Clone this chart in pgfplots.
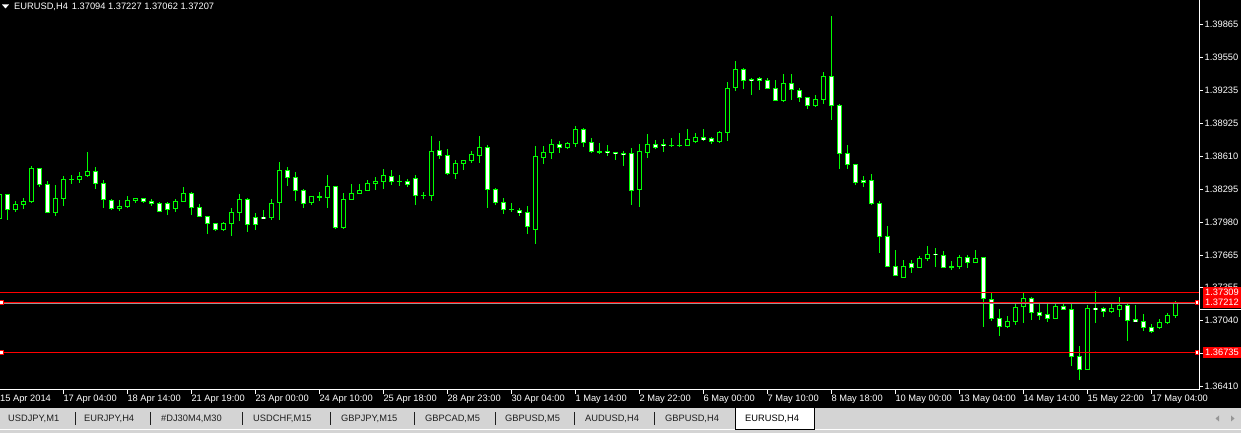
\documentclass[border=0pt]{standalone}
\usepackage{pgfplots}
\pgfplotsset{compat=1.18}
\usepackage{pgfplotstable}
\usepackage{fontspec}
\setmainfont{Liberation Sans}
\definecolor{wick}{RGB}{0,255,0}
\definecolor{tabgray}{RGB}{212,212,212}
\definecolor{tabtext}{RGB}{30,30,30}
\definecolor{bidgray}{RGB}{150,150,150}
\newcommand{\mtfont}{\fontsize{9.3}{10}\selectfont}
\pgfplotstableread{
n O H L C
0 1.38013 1.38258 1.38003 1.38248
1 1.38248 1.38251 1.38003 1.38099
2 1.38099 1.38178 1.38073 1.38153
3 1.38146 1.38210 1.38108 1.38181
4 1.38178 1.38516 1.38165 1.38497
5 1.38493 1.38497 1.38318 1.38341
6 1.38341 1.38369 1.38070 1.38073
7 1.38073 1.38334 1.38041 1.38210
8 1.38207 1.38417 1.38137 1.38388
9 1.38388 1.38433 1.38347 1.38388
10 1.38388 1.38458 1.38356 1.38420
11 1.38423 1.38649 1.38414 1.38465
12 1.38465 1.38506 1.38299 1.38350
13 1.38353 1.38382 1.38118 1.38197
14 1.38191 1.38197 1.38095 1.38108
15 1.38111 1.38191 1.38086 1.38134
16 1.38127 1.38229 1.38124 1.38188
17 1.38188 1.38210 1.38159 1.38207
18 1.38207 1.38210 1.38159 1.38178
19 1.38181 1.38200 1.38130 1.38159
20 1.38159 1.38169 1.38080 1.38083
21 1.38159 1.38169 1.38051 1.38099
22 1.38108 1.38197 1.38076 1.38178
23 1.38178 1.38315 1.38169 1.38255
24 1.38255 1.38267 1.38051 1.38118
25 1.38121 1.38153 1.38029 1.38032
26 1.38035 1.38038 1.37869 1.37965
27 1.37968 1.37974 1.37898 1.37908
28 1.37908 1.37981 1.37901 1.37968
29 1.37965 1.38115 1.37850 1.38073
30 1.38073 1.38248 1.37994 1.38197
31 1.38197 1.38210 1.37889 1.37959
32 1.38025 1.38067 1.37908 1.37955
33 1.38025 1.38095 1.38022 1.38023
34 1.38025 1.38200 1.38003 1.38159
35 1.38169 1.38554 1.38003 1.38474
36 1.38474 1.38503 1.38328 1.38407
37 1.38407 1.38458 1.38184 1.38283
38 1.38283 1.38293 1.38118 1.38159
39 1.38169 1.38226 1.38146 1.38226
40 1.38223 1.38267 1.38184 1.38223
41 1.38213 1.38430 1.38118 1.38321
42 1.38321 1.38321 1.37917 1.37927
43 1.37927 1.38255 1.37917 1.38197
44 1.38197 1.38344 1.38194 1.38255
45 1.38255 1.38344 1.38251 1.38283
46 1.38283 1.38379 1.38280 1.38350
47 1.38350 1.38407 1.38290 1.38369
48 1.38366 1.38484 1.38299 1.38427
49 1.38417 1.38474 1.38337 1.38369
50 1.38369 1.38427 1.38328 1.38369
51 1.38369 1.38388 1.38312 1.38341
52 1.38398 1.38427 1.38146 1.38235
53 1.38236 1.38267 1.38204 1.38236
54 1.38236 1.38802 1.38185 1.38656
55 1.38665 1.38751 1.38586 1.38618
56 1.38618 1.38678 1.38433 1.38442
57 1.38442 1.38570 1.38395 1.38541
58 1.38541 1.38573 1.38481 1.38570
59 1.38567 1.38656 1.38547 1.38627
60 1.38618 1.38802 1.38547 1.38694
61 1.38694 1.38713 1.38118 1.38290
62 1.38293 1.38302 1.38146 1.38169
63 1.38169 1.38210 1.38060 1.38102
64 1.38102 1.38162 1.38080 1.38102
65 1.38092 1.38115 1.38041 1.38073
66 1.38073 1.38134 1.37869 1.37936
67 1.37908 1.38707 1.37774 1.38608
68 1.38595 1.38707 1.38538 1.38646
69 1.38643 1.38773 1.38586 1.38723
70 1.38723 1.38751 1.38643 1.38694
71 1.38691 1.38745 1.38681 1.38732
72 1.38729 1.38898 1.38700 1.38866
73 1.38866 1.38879 1.38700 1.38738
74 1.38742 1.38780 1.38637 1.38653
75 1.38653 1.38735 1.38630 1.38653
76 1.38653 1.38716 1.38614 1.38646
77 1.38646 1.38646 1.38576 1.38637
78 1.38637 1.38659 1.38519 1.38627
79 1.38637 1.38688 1.38146 1.38283
80 1.38290 1.38726 1.38127 1.38656
81 1.38643 1.38824 1.38595 1.38723
82 1.38723 1.38761 1.38681 1.38694
83 1.38719 1.38773 1.38653 1.38713
84 1.38713 1.38783 1.38700 1.38713
85 1.38713 1.38831 1.38700 1.38713
86 1.38713 1.38869 1.38707 1.38770
87 1.38748 1.38834 1.38738 1.38789
88 1.38789 1.38869 1.38758 1.38767
89 1.38780 1.38789 1.38729 1.38748
90 1.38748 1.38847 1.38738 1.38837
91 1.38837 1.39318 1.38758 1.39257
92 1.39264 1.39518 1.39235 1.39439
93 1.39439 1.39448 1.39254 1.39334
94 1.39343 1.39356 1.39197 1.39334
95 1.39353 1.39366 1.39245 1.39334
96 1.39334 1.39353 1.39248 1.39257
97 1.39257 1.39334 1.39140 1.39143
98 1.39143 1.39391 1.39124 1.39305
99 1.39305 1.39391 1.39143 1.39248
100 1.39238 1.39257 1.39130 1.39171
101 1.39171 1.39171 1.39063 1.39095
102 1.39095 1.39190 1.39082 1.39152
103 1.39152 1.39413 1.39111 1.39372
104 1.39372 1.39948 1.38958 1.39095
105 1.39095 1.39105 1.38490 1.38637
106 1.38637 1.38716 1.38490 1.38532
107 1.38532 1.38538 1.38337 1.38360
108 1.38379 1.38417 1.38318 1.38360
109 1.38379 1.38439 1.38146 1.38159
110 1.38159 1.38181 1.37685 1.37844
111 1.37844 1.37939 1.37548 1.37557
112 1.37557 1.37710 1.37468 1.37471
113 1.37452 1.37615 1.37452 1.37557
114 1.37586 1.37615 1.37497 1.37548
115 1.37548 1.37656 1.37538 1.37634
116 1.37634 1.37748 1.37605 1.37672
117 1.37675 1.37733 1.37548 1.37669
118 1.37662 1.37701 1.37545 1.37548
119 1.37557 1.37605 1.37526 1.37557
120 1.37557 1.37662 1.37529 1.37643
121 1.37643 1.37662 1.37538 1.37596
122 1.37596 1.37710 1.37586 1.37634
123 1.37643 1.37643 1.36978 1.37249
124 1.37245 1.37303 1.37039 1.37061
125 1.37061 1.37150 1.36889 1.36984
126 1.36981 1.37080 1.36972 1.37032
127 1.37032 1.37195 1.37000 1.37166
128 1.37175 1.37303 1.37016 1.37252
129 1.37252 1.37261 1.37042 1.37118
130 1.37118 1.37195 1.37042 1.37090
131 1.37099 1.37204 1.37029 1.37061
132 1.37061 1.37195 1.37051 1.37175
133 1.37175 1.37195 1.37137 1.37147
134 1.37147 1.37195 1.36602 1.36698
135 1.36698 1.36800 1.36475 1.36574
136 1.36574 1.37185 1.36564 1.37156
137 1.37160 1.37322 1.37019 1.37153
138 1.37156 1.37166 1.37070 1.37128
139 1.37128 1.37195 1.37109 1.37156
140 1.37147 1.37261 1.37070 1.37185
141 1.37185 1.37195 1.36848 1.37042
142 1.37051 1.37185 1.37023 1.37032
143 1.37032 1.37099 1.36943 1.36975
144 1.36975 1.37004 1.36924 1.36937
145 1.36975 1.37051 1.36956 1.37023
146 1.37023 1.37109 1.37004 1.37090
147 1.37094 1.37227 1.37062 1.37207
}\candles
\begin{document}
\begin{tikzpicture}[x=1pt,y=1pt]
\useasboundingbox (0,0) rectangle (1241,433);
\fill[black] (0,0) rectangle (1241,433);
% tab bar
\fill[tabgray] (0,0) rectangle (1241,24.7);
\draw[white, line width=1.5pt] (0,3.7) -- (1241,3.7);
\fill[white] (735,3.5) rectangle (814,24.7);
\draw[black, line width=0.8pt] (735,24.7) -- (735,3.5) -- (814,3.5) -- (814,24.7);
\begin{scope}[font=\mtfont, text=tabtext]
\node[anchor=west, inner sep=0pt] at (8,14.5) {USDJPY,M1};
\node[anchor=west, inner sep=0pt] at (84,14.5) {EURJPY,H4};
\node[anchor=west, inner sep=0pt] at (161,14.5) {\#DJ30M4,M30};
\node[anchor=west, inner sep=0pt] at (253,14.5) {USDCHF,M15};
\node[anchor=west, inner sep=0pt] at (341,14.5) {GBPJPY,M15};
\node[anchor=west, inner sep=0pt] at (425,14.5) {GBPCAD,M5};
\node[anchor=west, inner sep=0pt] at (505,14.5) {GBPUSD,M5};
\node[anchor=west, inner sep=0pt] at (585,14.5) {AUDUSD,H4};
\node[anchor=west, inner sep=0pt] at (665,14.5) {GBPUSD,H4};
\node[anchor=west, inner sep=0pt, text=black] at (745,14.5) {EURUSD,H4};
\end{scope}
\foreach \sx in {75,150,242,330,414,495,574,654}{\draw[tabtext, line width=0.8pt] (\sx,8) -- (\sx,21);}
\fill[bidgray] (1219,11.5) -- (1219,17.5) -- (1215.5,14.5) -- cycle;
\fill[bidgray] (1231,11.5) -- (1231,17.5) -- (1234.5,14.5) -- cycle;
% title
\fill[white] (2,428.5) -- (9,428.5) -- (5.5,424.5) -- cycle;
\node[anchor=west, inner sep=0pt, text=white, font=\mtfont] at (14,426.5) {EURUSD,H4\hspace{4pt}1.37094 1.37227 1.37062 1.37207};
\begin{axis}[at={(0,41.5)}, anchor=south west, scale only axis,
  width=1199pt, height=391.5pt,
  xmin=0.0875, xmax=149.9625, ymin=1.36381, ymax=1.40120,
  clip mode=individual,
  axis x line*=bottom, axis y line*=right,
  axis line style={white, line width=1pt},
  tick style={white, line width=1pt},
  major tick length=4pt, tick align=outside,
  scaled y ticks=false,
  xtick={8,16,...,144},
  xticklabels={17 Apr 04:00,18 Apr 14:00,21 Apr 19:00,23 Apr 00:00,24 Apr 10:00,25 Apr 18:00,28 Apr 23:00,30 Apr 04:00,1 May 14:00,2 May 22:00,6 May 00:00,7 May 10:00,8 May 18:00,10 May 00:00,13 May 04:00,14 May 14:00,15 May 22:00,17 May 04:00},
  ytick={1.36410,1.36725,1.37040,1.37355,1.37665,1.37980,1.38295,1.38610,1.38925,1.39235,1.39550,1.39865},
  yticklabels={1.36410,1.36725,1.37040,1.37355,1.37665,1.37980,1.38295,1.38610,1.38925,1.39235,1.39550,1.39865},
  ticklabel style={text=white, font=\mtfont, inner sep=0pt},
  xticklabel style={anchor=north west, yshift=-1pt},
  yticklabel style={anchor=west, xshift=1.5pt},
]
% wicks
\addplot[draw=none, mark=none, forget plot,
  error bars/.cd, y dir=both, y explicit, error mark=none,
  error bar style={draw=wick, line width=1pt}]
  table[x=n, y=O, y error plus expr={\thisrow{H}-\thisrow{O}}, y error minus expr={\thisrow{O}-\thisrow{L}}]{\candles};
% body outlines
\addplot[draw=none, mark=none, forget plot,
  error bars/.cd, y dir=both, y explicit, error mark=none,
  error bar style={draw=wick, line width=5pt}]
  table[x=n, y expr={(\thisrow{O}+\thisrow{C})/2}, y error expr={abs(\thisrow{C}-\thisrow{O})/2+0.0000478}]{\candles};
% bear bodies (white)
\addplot[draw=none, mark=none, forget plot,
  error bars/.cd, y dir=both, y explicit, error mark=none,
  error bar style={draw=white, line width=3pt}]
  table[x=n, y expr={\thisrow{C}<\thisrow{O} ? (\thisrow{O}+\thisrow{C})/2 : nan}, y error expr={abs(\thisrow{C}-\thisrow{O})/2-0.0000478}]{\candles};
% bull bodies (black)
\addplot[draw=none, mark=none, forget plot,
  error bars/.cd, y dir=both, y explicit, error mark=none,
  error bar style={draw=black, line width=3pt}]
  table[x=n, y expr={\thisrow{C}>\thisrow{O} ? (\thisrow{O}+\thisrow{C})/2 : nan}, y error expr={abs(\thisrow{C}-\thisrow{O})/2-0.0000478}]{\candles};
% bid line and horizontal lines
\addplot[forget plot, bidgray, line width=1pt] coordinates {(0.0875,1.37207) (149.9625,1.37207)};
\addplot[forget plot, red, line width=1.2pt] coordinates {(0.0875,1.37309) (149.9625,1.37309)};
\addplot[forget plot, red, line width=1.2pt] coordinates {(0.0875,1.37212) (149.9625,1.37212)};
\addplot[forget plot, red, line width=1.2pt] coordinates {(0.0875,1.36735) (149.9625,1.36735)};
\addplot[forget plot, only marks, mark=square*, mark size=1.8pt, mark options={fill=white, draw=red, line width=0.8pt}] coordinates {(0.27,1.37212) (149.7,1.37212) (0.27,1.36735) (149.7,1.36735)};
\coordinate (rA) at (axis cs:149.9625,1.37309);
\coordinate (rB) at (axis cs:149.9625,1.37212);
\coordinate (rC) at (axis cs:149.9625,1.36735);
\coordinate (firstlab) at (axis cs:0.0875,1.36381);
\end{axis}
\node[anchor=north west, inner sep=0pt, text=white, font=\mtfont] at ([yshift=-5pt]firstlab) {15 Apr 2014};
\draw[white, line width=1pt] (1199,123.5) -- (1241,123.5);
\begin{scope}[every node/.style={fill=red, text=white, anchor=west, minimum width=39pt, minimum height=10.7pt, inner sep=0pt, font=\mtfont}]
\node at ([xshift=3.3pt]rA) {1.37309};
\node at ([xshift=3.3pt]rB) {1.37212};
\node at ([xshift=3.3pt]rC) {1.36735};
\end{scope}
\end{tikzpicture}
\end{document}
